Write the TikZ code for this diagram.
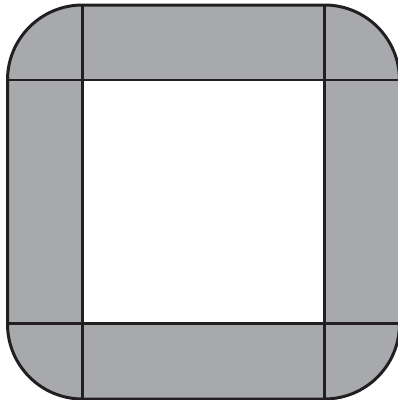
\documentclass[tikz,border=0pt]{standalone}
\usepackage{tikz}
\usepackage{xcolor}
\definecolor{framegray}{RGB}{167,169,172}
\definecolor{edgecolor}{RGB}{35,31,32}
\tikzset{
    frameedge/.style={draw=edgecolor, line width=3pt, fill=framegray, rounded corners=75pt},
    divider/.style={draw=edgecolor, line width=2.6pt}
}

\begin{document}
\begin{tikzpicture}[x=1pt, y=-1pt]
    \useasboundingbox (0,0) rectangle (398,400);

    % outer rounded frame
    \coordinate (tl) at (7.5,5);
    \coordinate (br) at (399.5,399);
    \path[frameedge] (tl) rectangle (br);

    % inner white window
    \coordinate (itl) at (82.5,80);
    \coordinate (ibr) at (324.5,323.5);
    \fill[white] (itl) rectangle (ibr);

    % dividing lines
    \draw[divider] (tl |- itl) -- (br |- itl);
    \draw[divider] (tl |- ibr) -- (br |- ibr);
    \draw[divider] (itl |- tl) -- (itl |- br);
    \draw[divider] (ibr |- tl) -- (ibr |- br);

\end{tikzpicture}
\end{document}
